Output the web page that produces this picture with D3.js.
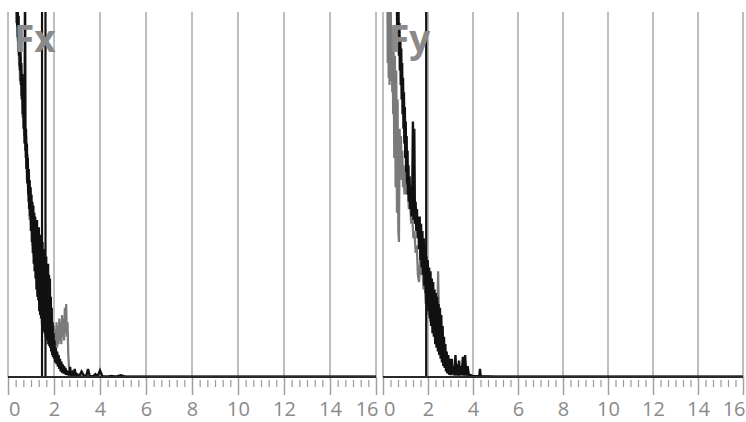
<!DOCTYPE html>
<html>
<head>
<meta charset="utf-8">
<script src="https://cdn.jsdelivr.net/npm/d3@7"></script>
<style>
  html, body { margin: 0; padding: 0; background: #fff; }
  svg { display: block; }
</style>
</head>
<body>
<svg id="chart" width="746" height="422"></svg>
<script>
// Frequency axis (both panels)
const majorTicks = [0, 2, 4, 6, 8, 10, 12, 14, 16];
const tickLabels = ['0', '2', '4', '6', '8', '10', '12', '14', '16'];
const panelTitles = ['Fx', 'Fy'];

// Fx spectrum, grey trace [freq, amplitude %]
const fxGray = [
  [0.30, 130], [0.32, 105], [0.34, 112], [0.36, 97], [0.38, 105], [0.40, 93], [0.42, 100], [0.44, 89],
  [0.46, 96], [0.48, 85], [0.50, 92], [0.52, 81], [0.55, 88], [0.58, 77], [0.61, 83], [0.64, 71],
  [0.67, 77], [0.70, 66], [0.73, 72], [0.76, 60], [0.79, 66], [0.82, 54], [0.85, 61], [0.88, 48],
  [0.91, 56], [0.94, 43], [0.97, 52], [1.00, 40], [1.03, 48], [1.06, 36], [1.09, 44], [1.12, 33],
  [1.15, 41], [1.18, 29], [1.21, 38], [1.24, 26], [1.27, 34], [1.30, 23], [1.33, 31], [1.36, 20],
  [1.39, 28], [1.42, 18], [1.45, 26], [1.48, 15], [1.51, 23], [1.54, 13], [1.57, 21], [1.60, 12],
  [1.63, 19], [1.66, 10], [1.69, 17], [1.72, 9], [1.75, 16], [1.78, 9], [1.81, 15], [1.84, 8],
  [1.87, 14], [1.90, 8], [1.93, 13], [1.96, 7], [1.99, 14], [2.02, 8], [2.05, 13], [2.08, 9],
  [2.11, 15], [2.14, 8], [2.17, 14], [2.20, 9], [2.23, 16], [2.26, 10], [2.29, 15], [2.32, 9],
  [2.35, 17], [2.38, 11], [2.41, 16], [2.44, 10], [2.47, 19], [2.50, 12], [2.53, 20], [2.56, 11],
  [2.59, 15], [2.62, 6], [2.65, 3], [2.68, 1.5], [2.72, 0.8], [2.78, 1.2], [2.86, 0.5], [2.95, 0.9],
  [3.05, 0.3], [3.20, 0.5], [3.50, 0.2], [4.00, 0.1], [16, 0.1]
];

// Fx spectrum, black trace
const fxBlack = [
  [0.30, 140], [0.32, 112], [0.34, 118], [0.36, 100], [0.38, 108], [0.40, 96], [0.42, 103], [0.44, 92],
  [0.46, 99], [0.48, 88], [0.50, 95], [0.52, 84], [0.54, 90], [0.56, 80], [0.58, 86], [0.60, 76],
  [0.62, 83], [0.64, 72], [0.66, 78], [0.68, 68], [0.70, 74], [0.72, 64], [0.74, 110], [0.76, 62],
  [0.78, 68], [0.80, 57], [0.82, 64], [0.84, 53], [0.86, 60], [0.88, 50], [0.90, 57], [0.92, 46],
  [0.94, 54], [0.96, 44], [0.98, 52], [1.00, 40], [1.02, 50], [1.04, 37], [1.06, 48], [1.08, 34],
  [1.10, 47], [1.12, 31], [1.14, 45], [1.16, 29], [1.18, 44], [1.20, 27], [1.22, 42], [1.24, 24],
  [1.26, 43], [1.28, 22], [1.30, 40], [1.32, 21], [1.34, 41], [1.36, 18], [1.38, 38], [1.40, 17],
  [1.42, 39], [1.44, 16], [1.46, 36], [1.48, 14.5], [1.50, 37], [1.52, 14], [1.54, 34], [1.56, 12.5],
  [1.58, 35], [1.60, 12], [1.62, 32], [1.64, 11], [1.66, 33], [1.68, 10.5], [1.70, 30], [1.72, 10],
  [1.74, 31], [1.76, 9], [1.78, 28], [1.80, 8.5], [1.82, 27], [1.84, 8], [1.86, 22], [1.88, 7],
  [1.90, 19], [1.92, 6], [1.94, 15], [1.96, 5.5], [1.98, 12], [2.00, 5], [2.02, 10], [2.05, 4],
  [2.08, 8], [2.11, 3.5], [2.14, 7], [2.17, 2.8], [2.20, 6], [2.23, 2.2], [2.26, 5], [2.29, 1.5],
  [2.32, 4.2], [2.35, 1.2], [2.38, 3.5], [2.41, 1], [2.44, 3], [2.47, 0.8], [2.50, 2.5], [2.53, 0.6],
  [2.56, 1.8], [2.60, 0.5], [2.63, 1.5], [2.66, 0.4], [2.70, 2.8], [2.74, 0.4], [2.80, 1.2],
  [2.85, 0.3], [2.90, 2.2], [2.95, 0.4], [3.00, 0.8], [3.10, 0.3], [3.20, 1.5], [3.30, 0.4],
  [3.40, 0.2], [3.48, 2.2], [3.55, 0.3], [3.70, 0.2], [3.80, 0.8], [3.90, 0.2], [4.00, 1.8],
  [4.10, 0.2], [4.30, 0.1], [4.50, 0.3], [4.70, 0.1], [4.90, 0.5], [5.10, 0.1], [6.00, 0.1], [16, 0.1]
];

// Fy spectrum, grey trace
const fyGray = [
  [0.15, 140], [0.17, 100], [0.19, 118], [0.21, 86], [0.23, 108], [0.25, 82], [0.27, 112], [0.29, 80],
  [0.31, 104], [0.33, 84], [0.35, 100], [0.37, 81], [0.39, 96], [0.41, 78], [0.43, 94], [0.45, 72],
  [0.47, 90], [0.50, 60], [0.53, 88], [0.56, 52], [0.59, 84], [0.62, 45], [0.65, 76], [0.68, 40],
  [0.71, 37], [0.74, 68], [0.77, 58], [0.80, 66], [0.83, 54], [0.86, 62], [0.89, 52], [0.92, 58],
  [0.95, 50], [0.98, 55], [1.00, 56], [1.05, 50], [1.10, 52], [1.15, 46], [1.20, 48], [1.25, 42],
  [1.30, 44], [1.35, 38], [1.40, 40], [1.45, 34], [1.50, 36], [1.55, 28], [1.60, 26], [1.65, 32],
  [1.70, 28], [1.75, 30], [1.80, 24], [1.85, 26], [1.90, 20], [1.95, 23], [2.00, 17], [2.05, 21],
  [2.10, 15], [2.15, 19], [2.20, 14], [2.25, 18], [2.30, 12], [2.35, 22], [2.40, 14], [2.45, 29],
  [2.50, 12], [2.55, 17], [2.60, 8], [2.65, 12], [2.70, 5], [2.75, 7], [2.80, 3], [2.90, 2],
  [3.00, 1], [3.20, 0.5], [3.50, 0.3], [4.00, 0.1], [16, 0.1]
];

// Fy spectrum, black trace
const fyBlack = [
  [0.50, 140], [0.56, 112], [0.59, 100], [0.61, 108], [0.63, 96], [0.65, 104], [0.67, 92], [0.69, 100],
  [0.71, 88], [0.73, 97], [0.75, 84], [0.77, 93], [0.79, 80], [0.81, 90], [0.83, 76], [0.85, 86],
  [0.87, 72], [0.89, 82], [0.91, 68], [0.93, 78], [0.95, 64], [0.97, 74], [0.99, 60], [1.01, 70],
  [1.03, 56], [1.05, 66], [1.07, 53], [1.09, 62], [1.11, 50], [1.13, 58], [1.15, 48], [1.18, 55],
  [1.21, 46], [1.24, 52], [1.27, 44], [1.30, 50], [1.33, 70], [1.36, 43], [1.39, 68], [1.42, 42],
  [1.45, 48], [1.48, 40], [1.51, 46], [1.54, 38], [1.57, 44], [1.60, 35], [1.63, 44], [1.66, 32],
  [1.69, 42], [1.72, 30], [1.75, 40], [1.78, 28], [1.81, 38], [1.84, 25], [1.87, 36], [1.90, 23],
  [1.93, 33], [1.96, 20], [1.99, 32], [2.02, 18], [2.05, 30], [2.08, 16], [2.11, 29], [2.14, 14],
  [2.17, 27], [2.20, 12], [2.23, 26], [2.26, 11], [2.29, 24], [2.32, 9], [2.35, 23], [2.38, 8],
  [2.41, 22], [2.44, 7], [2.47, 20], [2.50, 6], [2.53, 19], [2.56, 5], [2.59, 17], [2.62, 4],
  [2.65, 14], [2.68, 3], [2.71, 11], [2.74, 2.5], [2.77, 9], [2.80, 1.5], [2.83, 7], [2.86, 1],
  [2.90, 6], [2.94, 0.6], [2.98, 5], [3.02, 0.5], [3.06, 5], [3.10, 0.8], [3.14, 3], [3.18, 0.5],
  [3.22, 6], [3.26, 0.6], [3.30, 3.5], [3.34, 0.4], [3.38, 4.5], [3.42, 0.5], [3.46, 3], [3.50, 0.6],
  [3.55, 5.5], [3.60, 0.4], [3.65, 6], [3.70, 0.4], [3.76, 3], [3.82, 0.3], [3.90, 0.5], [4.00, 0.2],
  [4.28, 0.2], [4.31, 2.2], [4.34, 0.2], [5.00, 0.1], [16, 0.1]
];

// vertical black markers (frequency)
const fxMarkers = [1.48, 1.63];
const fyMarkers = [1.92];

const panels = [
  { title: panelTitles[0], left: 8, right: 376, gray: fxGray, black: fxBlack, markers: fxMarkers },
  { title: panelTitles[1], left: 383, right: 743, gray: fyGray, black: fyBlack, markers: fyMarkers }
];

const plotTop = 12;
const baseY = 377;
const svg = d3.select('#chart');
const font = '"Open Sans", "Noto Sans", sans-serif';

panels.forEach((p, idx) => {
  const x = d3.scaleLinear().domain([0, 16]).range([p.left, p.right]);
  const y = d3.scaleLinear().domain([0, 100]).range([baseY, plotTop]);

  const g = svg.append('g').attr('class', 'panel');

  // clip so traces stop at the top of the plot
  const clipId = 'clip' + idx;
  svg.append('clipPath').attr('id', clipId)
    .append('rect')
    .attr('x', p.left - 1).attr('y', plotTop)
    .attr('width', p.right - p.left + 2).attr('height', baseY - plotTop + 1);

  // vertical grid lines
  g.append('g').selectAll('line')
    .data(majorTicks)
    .join('line')
    .attr('x1', d => x(d)).attr('x2', d => x(d))
    .attr('y1', plotTop).attr('y2', baseY)
    .attr('stroke', '#a9a9a9')
    .attr('stroke-width', 1.5);

  // minor ticks every 1/3
  const minor = d3.range(0, 49).map(i => i / 3).filter(v => Math.abs(v / 2 - Math.round(v / 2)) > 0.01);
  const minorAxis = d3.axisBottom(x).tickValues(minor).tickSize(7).tickFormat('');
  const mg = g.append('g').attr('transform', `translate(0,${baseY + 3})`).call(minorAxis);
  mg.select('.domain').remove();
  mg.selectAll('line').attr('stroke', '#999').attr('stroke-width', 1.2);

  // major ticks + labels
  const majorAxis = d3.axisBottom(x)
    .tickValues(majorTicks)
    .tickSize(18)
    .tickPadding(7)
    .tickFormat((d, i) => tickLabels[i]);
  const ag = g.append('g').attr('transform', `translate(0,${baseY})`).call(majorAxis);
  ag.select('.domain').remove();
  ag.selectAll('line').attr('stroke', '#a0a0a0').attr('stroke-width', 1.5);
  ag.selectAll('text')
    .attr('fill', '#8a8a8a')
    .attr('font-size', '20px')
    .attr('font-family', font)
    .attr('text-anchor', (d, i) => i === 0 ? 'start' : (i === majorTicks.length - 1 ? 'end' : 'middle'))
    .attr('dx', (d, i) => i === 0 ? '0.5px' : (i === majorTicks.length - 1 ? '2px' : 0));

  const plot = g.append('g').attr('clip-path', `url(#${clipId})`);

  const line = d3.line().x(d => x(d[0])).y(d => y(d[1]));

  plot.append('path')
    .datum(p.gray)
    .attr('d', line)
    .attr('fill', 'none')
    .attr('stroke', '#7a7a7a')
    .attr('stroke-width', 2.2)
    .attr('stroke-linejoin', 'miter');

  plot.append('path')
    .datum(p.black)
    .attr('d', line)
    .attr('fill', 'none')
    .attr('stroke', '#111')
    .attr('stroke-width', 2.4)
    .attr('stroke-linejoin', 'miter');

  // baseline
  g.append('line')
    .attr('x1', x(0)).attr('x2', x(16))
    .attr('y1', baseY).attr('y2', baseY)
    .attr('stroke', '#2a2a2a')
    .attr('stroke-width', 2);

  // vertical black markers
  plot.selectAll('line.marker')
    .data(p.markers)
    .join('line')
    .attr('class', 'marker')
    .attr('x1', d => x(d)).attr('x2', d => x(d))
    .attr('y1', plotTop).attr('y2', baseY)
    .attr('stroke', '#111')
    .attr('stroke-width', 2.2);

  // panel title
  g.append('text')
    .attr('x', x(0) + 6)
    .attr('y', 52)
    .attr('fill', '#8a8a8a')
    .attr('font-family', font)
    .attr('font-weight', 'bold')
    .attr('font-size', '37px')
    .text(p.title);
});
</script>
</body>
</html>
